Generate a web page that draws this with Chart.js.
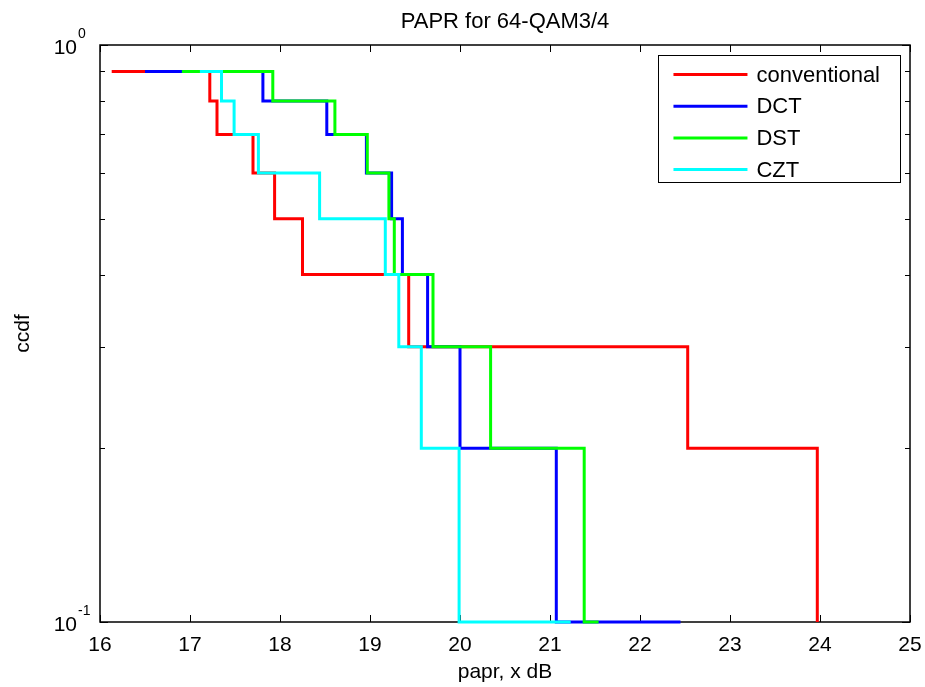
<!DOCTYPE html>
<html>
<head>
<meta charset="utf-8">
<title>PAPR for 64-QAM3/4</title>
<script src="https://cdn.jsdelivr.net/npm/chart.js@4.4.1/dist/chart.umd.min.js"></script>
<style>
  html, body { margin: 0; padding: 0; background: #fff; }
</style>
</head>
<body>
<canvas id="paprChart" width="925" height="687"></canvas>
<script>
// PAPR (dB) at which each empirical CCDF steps down, and the level after the step
const conventionalPapr = [16.13, 17.22, 17.30, 17.70, 17.94, 18.25, 19.43, 22.53, 23.97];
const conventionalCcdf = [0.9, 0.8, 0.7, 0.6, 0.5, 0.4, 0.3, 0.2, 0.1];
const dctPapr = [16.50, 17.81, 18.52, 18.96, 19.24, 19.36, 19.64, 20.00, 21.07, 22.45];
const dctCcdf = [0.9, 0.8, 0.7, 0.6, 0.5, 0.4, 0.3, 0.2, 0.1, 0.1];
const dstPapr = [16.91, 17.92, 18.61, 18.97, 19.21, 19.27, 19.70, 20.34, 21.38, 21.54];
const dstCcdf = [0.9, 0.8, 0.7, 0.6, 0.5, 0.4, 0.3, 0.2, 0.1, 0.1];
const cztPapr = [17.11, 17.35, 17.49, 17.76, 18.44, 19.17, 19.32, 19.57, 19.99, 21.23];
const cztCcdf = [0.9, 0.8, 0.7, 0.6, 0.5, 0.4, 0.3, 0.2, 0.1, 0.1];

const xTicks = [16, 17, 18, 19, 20, 21, 22, 23, 24, 25];
const yMajorTicks = [0.1, 1];
const yMajorExp = ['-1', '0'];
const yMinorTicks = [0.2, 0.3, 0.4, 0.5, 0.6, 0.7, 0.8, 0.9];

const FONT = "'Liberation Sans', Arial, Helvetica, sans-serif";
Chart.defaults.font.family = FONT;
Chart.defaults.color = '#000';

function stairs(xs, ys) {
    return xs.map((v, i) => ({ x: v, y: ys[i] }));
}

// later series are plotted over earlier ones
function series(label, xs, ys, color, order) {
    return {
        label: label,
        data: stairs(xs, ys),
        borderColor: color,
        backgroundColor: color,
        borderWidth: 3,
        stepped: 'before',
        pointRadius: 0,
        fill: false,
        clip: false,
        order: order
    };
}

// box around the axes with inward ticks on all four sides, plus 10^n labels
const matlabAxes = {
    id: 'matlabAxes',
    beforeDatasetsDraw(chart) {
        const { ctx, chartArea: a, scales: { x, y } } = chart;
        ctx.save();
        ctx.strokeStyle = '#000';
        ctx.lineWidth = 1;
        ctx.beginPath();
        xTicks.forEach(v => {
            const px = Math.round(x.getPixelForValue(v)) + 0.5;
            ctx.moveTo(px, a.bottom); ctx.lineTo(px, a.bottom - 7);
            ctx.moveTo(px, a.top); ctx.lineTo(px, a.top + 7);
        });
        yMajorTicks.forEach(v => {
            const py = Math.round(y.getPixelForValue(v)) + 0.5;
            ctx.moveTo(a.left, py); ctx.lineTo(a.left + 8, py);
            ctx.moveTo(a.right, py); ctx.lineTo(a.right - 8, py);
        });
        yMinorTicks.forEach(v => {
            const py = Math.round(y.getPixelForValue(v)) + 0.5;
            ctx.moveTo(a.left, py); ctx.lineTo(a.left + 5, py);
            ctx.moveTo(a.right, py); ctx.lineTo(a.right - 5, py);
        });
        ctx.stroke();

        ctx.lineWidth = 1.5;
        ctx.strokeRect(a.left, a.top, a.width, a.height);

        ctx.fillStyle = '#000';
        ctx.textBaseline = 'middle';
        yMajorTicks.forEach((v, i) => {
            const py = y.getPixelForValue(v);
            ctx.font = '21px ' + FONT;
            ctx.textAlign = 'right';
            ctx.fillText('10', a.left - 23, py + 3);
            ctx.font = '14px ' + FONT;
            ctx.textAlign = 'left';
            ctx.fillText(yMajorExp[i], a.left - 22, py - 11);
        });
        ctx.restore();
    },
    afterDraw(chart) {
        // legend box in the upper right corner of the axes
        const { ctx, chartArea: a } = chart;
        const sets = chart.data.datasets;
        ctx.save();
        ctx.font = '22px ' + FONT;
        const textW = Math.max(...sets.map(d => ctx.measureText(d.label).width));
        const padL = 15, sample = 74, gap = 9, padR = 20;
        const rowH = 31.7, firstRow = 19.5;
        const w = padL + sample + gap + textW + padR;
        const h = firstRow * 2 + rowH * (sets.length - 1) - 7;
        const left = a.right - 10 - w;
        const top = a.top + 10;
        ctx.fillStyle = '#fff';
        ctx.fillRect(left, top, w, h);
        ctx.strokeStyle = '#000';
        ctx.lineWidth = 1;
        ctx.strokeRect(Math.round(left) + 0.5, Math.round(top) + 0.5, Math.round(w), Math.round(h));
        sets.forEach((d, i) => {
            const cy = top + firstRow + i * rowH;
            ctx.strokeStyle = d.borderColor;
            ctx.lineWidth = 3;
            ctx.beginPath();
            ctx.moveTo(left + padL, cy);
            ctx.lineTo(left + padL + sample, cy);
            ctx.stroke();
            ctx.fillStyle = '#000';
            ctx.textAlign = 'left';
            ctx.textBaseline = 'middle';
            ctx.fillText(d.label, left + padL + sample + gap, cy + 1);
        });
        ctx.restore();
    }
};

new Chart(document.getElementById('paprChart'), {
    type: 'line',
    data: {
        datasets: [
            series('conventional', conventionalPapr, conventionalCcdf, '#ff0000', 3),
            series('DCT', dctPapr, dctCcdf, '#0000ff', 2),
            series('DST', dstPapr, dstCcdf, '#00ff00', 1),
            series('CZT', cztPapr, cztCcdf, '#00ffff', 0)
        ]
    },
    options: {
        responsive: false,
        animation: false,
        devicePixelRatio: 1,
        layout: { padding: { left: 0, right: 15, top: 0, bottom: 0 } },
        plugins: {
            legend: { display: false },
            tooltip: { enabled: false },
            title: {
                display: true,
                fullSize: false,
                text: 'PAPR for 64-QAM3/4',
                color: '#000',
                font: { size: 22, weight: 'normal' },
                padding: { top: 9, bottom: 9.6 }
            }
        },
        scales: {
            x: {
                type: 'linear',
                min: 16,
                max: 25,
                afterBuildTicks: scale => { scale.ticks = xTicks.map(v => ({ value: v })); },
                ticks: { color: '#000', font: { size: 21 }, padding: 11, maxRotation: 0, autoSkip: false },
                grid: { display: false, drawTicks: false },
                border: { display: false },
                title: {
                    display: true,
                    text: 'papr, x dB',
                    color: '#000',
                    font: { size: 21 },
                    padding: { top: 0, bottom: 2 }
                },
                afterFit: scale => {
                    scale.height = 65;
                    scale.paddingLeft = 0;
                    scale.paddingRight = 0;
                }
            },
            y: {
                type: 'logarithmic',
                min: 0.1,
                max: 1,
                ticks: { display: false },
                grid: { display: false, drawTicks: false },
                border: { display: false },
                title: {
                    display: true,
                    text: 'ccdf',
                    color: '#000',
                    font: { size: 21 },
                    padding: { top: 11, bottom: 0 }
                },
                afterFit: scale => { scale.width = 100; }
            }
        }
    },
    plugins: [matlabAxes]
});
</script>
</body>
</html>
